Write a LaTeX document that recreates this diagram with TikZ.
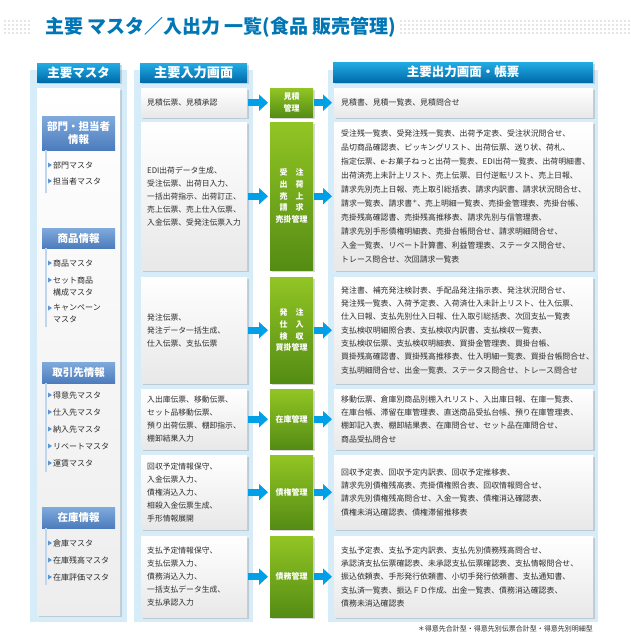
\documentclass[tikz,border=0pt]{standalone}
\usepackage{fontspec}
\setmainfont{Noto Sans CJK JP}
\usetikzlibrary{arrows.meta,shadows}
\definecolor{titleblue}{RGB}{0,118,182}
\definecolor{hdtop}{RGB}{35,172,228}
\definecolor{hdbot}{RGB}{0,106,170}
\definecolor{panelblue}{RGB}{214,236,248}
\definecolor{gtop}{RGB}{146,197,36}
\definecolor{gbot}{RGB}{84,140,20}
\definecolor{arrowblue}{RGB}{0,160,233}
\definecolor{sectop}{RGB}{128,170,220}
\definecolor{secbot}{RGB}{76,124,188}
\definecolor{vlinec}{RGB}{190,214,238}
\definecolor{tric}{RGB}{90,150,210}
\definecolor{txt}{RGB}{45,45,45}
\definecolor{dotgray}{RGB}{205,205,205}
\tikzset{
  panel/.style={fill=panelblue, draw=none, anchor=north west, inner sep=0pt},
  softshadow/.style={drop shadow={shadow xshift=1.3pt, shadow yshift=-1.3pt, opacity=0.3}},
  colhead/.style={anchor=north west, inner sep=0pt, top color=hdtop, bottom color=hdbot, text=white, font=\bfseries\fontsize{12.5}{14}\selectfont, softshadow},
  whitebox/.style={anchor=north west, top color=white, bottom color=black!9, softshadow, text=txt, align=left, inner ysep=0pt},
  inbox/.style={whitebox, inner xsep=6pt, text width=94pt, minimum width=106pt, font=\fontsize{7.8}{13}\selectfont},
  outbox/.style={whitebox, inner xsep=7pt, text width=245pt, minimum width=259pt, font=\fontsize{7.9}{13.3}\selectfont},
  procbox/.style={anchor=north west, minimum width=43pt, inner sep=0pt, top color=gtop, bottom color=gbot, text=white, align=center, font=\bfseries\fontsize{8}{11.7}\selectfont, softshadow},
  flow/.style={draw=arrowblue, line width=7pt, -{Triangle[width=16pt,length=9pt]}},
  sechead/.style={anchor=north west, minimum width=73pt, inner sep=0pt, top color=sectop, bottom color=secbot, text=white, align=center, font=\bfseries\fontsize{10.5}{13}\selectfont},
  item/.style={anchor=west, inner sep=0pt, text=txt, font=\fontsize{8}{12}\selectfont, align=left},
  secline/.style={draw=vlinec, line width=2pt},
}
\begin{document}
\begin{tikzpicture}[x=1pt,y=-1pt]
\useasboundingbox[fill=white] (0,0) rectangle (630,643);
% title dots
\foreach \x in {5,9,...,29} \foreach \y in {21,25,29,33} \fill[dotgray] (\x,\y) circle (0.8pt);
\foreach \x in {401,405,...,629} \foreach \y in {21,25,29,33} \fill[dotgray] (\x,\y) circle (0.8pt);
\node[anchor=west, text=titleblue, font=\bfseries\fontsize{19}{22}\selectfont, inner sep=0pt] (title) at (45,27) {主要 マスタ／入出力 一覧(食品 販売管理)};

% panels
\node[panel, minimum width=97pt, minimum height=552pt] (pan1) at (30,70) {};
\node[panel, minimum width=119pt, minimum height=552pt] (pan2) at (134,70) {};
\node[panel, minimum width=270pt, minimum height=552pt] (pan3) at (328,70) {};

% headers
\node[colhead, minimum width=83pt, minimum height=19pt] (h1) at (37,63) {主要マスタ};
\node[colhead, minimum width=107pt, minimum height=19pt, font=\bfseries\fontsize{13.2}{14}\selectfont] (h2) at (140,63) {主要入力画面};
\node[colhead, minimum width=260pt, minimum height=20pt] (h3) at (333,62) {主要出力画面・帳票};

% master column
\node[anchor=north west, top color=white, bottom color=black!7, softshadow, minimum width=83pt, minimum height=527pt, inner sep=0pt] (mast) at (37,88) {};
\node[sechead, minimum height=34pt] (s1) at (42,116) {部門・担当者\\情報};
\node[sechead, minimum height=20pt] (s2) at (42,228) {商品情報};
\node[sechead, minimum height=21pt] (s3) at (42,362) {取引先情報};
\node[sechead, minimum height=21pt] (s4) at (42,507) {在庫情報};
\draw[secline] (46,150) -- (46,193);
\draw[secline] (46,248) -- (46,327);
\draw[secline] (46,383) -- (46,472);
\draw[secline] (46,528) -- (46,585);
\foreach \n/\y/\t in {a/165/部門マスタ, b/181/担当者マスタ, c/263/商品マスタ, f/395/得意先マスタ, g/412/仕入先マスタ, h/429/納入先マスタ, i/446/リベートマスタ, j/463/運賃マスタ, k/543/倉庫マスタ, l/560/在庫残高マスタ, m/577/在庫評価マスタ}{
  \fill[tric] (48,\y-2.5) -- (52,\y) -- (48,\y+2.5) -- cycle;
  \node[item] (it\n) at (53,\y) {\t};
}
\fill[tric] (48,277.5) -- (52,280) -- (48,282.5) -- cycle;
\node[item] (itd) at (53,286) {セット商品\\構成マスタ};
\fill[tric] (48,305.5) -- (52,308) -- (48,310.5) -- cycle;
\node[item] (ite) at (53,314) {キャンペーン\\マスタ};

% input boxes
\node[inbox, minimum height=29pt] (ip1) at (141,88) {見積伝票、見積承認};
\node[inbox, minimum height=148pt] (ip2) at (141,122) {EDI出荷データ生成、\\受注伝票、出荷日入力、\\一括出荷指示、出荷訂正、\\売上伝票、売上仕入伝票、\\入金伝票、受発注伝票入力};
\node[inbox, minimum height=106pt] (ip3) at (141,277) {発注伝票、\\発注データ一括生成、\\仕入伝票、支払伝票};
\node[inbox, minimum height=60pt] (ip4) at (141,389) {入出庫伝票、移動伝票、\\セット品移動伝票、\\預り出荷伝票、棚卸指示、\\棚卸結果入力};
\node[inbox, minimum height=74pt] (ip5) at (141,455) {回収予定情報保守、\\入金伝票入力、\\債権消込入力、\\相殺入金伝票生成、\\手形情報展開};
\node[inbox, minimum height=81pt] (ip6) at (141,536) {支払予定情報保守、\\支払伝票入力、\\債務消込入力、\\一括支払データ生成、\\支払承認入力};

% process boxes
\node[procbox, minimum height=29pt] (pr1) at (270,88) {見積\\管理};
\node[procbox, minimum height=148pt] (pr2) at (270,122) {受　注\\出　荷\\売　上\\請　求\\売掛管理};
\node[procbox, minimum height=106pt] (pr3) at (270,277) {発　注\\仕　入\\検　収\\買掛管理};
\node[procbox, minimum height=60pt] (pr4) at (270,389) {在庫管理};
\node[procbox, minimum height=74pt] (pr5) at (270,455) {債権管理};
\node[procbox, minimum height=81pt] (pr6) at (270,536) {債務管理};

% output boxes
\node[outbox, minimum height=29pt] (op1) at (334,88) {見積書、見積一覧表、見積問合せ};
\node[outbox, minimum height=148pt, font=\fontsize{7.9}{14}\selectfont] (op2) at (334,122) {受注残一覧表、受発注残一覧表、出荷予定表、受注状況問合せ、\\品切商品確認表、ピッキングリスト、出荷伝票、送り状、荷札、\\\mbox{指定伝票、e-お菓子ねっと出荷一覧表、EDI出荷一覧表、出荷明細書、}\\出荷済売上未計上リスト、売上伝票、日付逆転リスト、売上日報、\\請求先別売上日報、売上取引総括表、請求内訳書、請求状況問合せ、\\請求一覧表、請求書{\raisebox{3pt}{\fontsize{5}{5}\selectfont ＊}}、売上明細一覧表、売掛金管理表、売掛台帳、\\売掛残高確認書、売掛残高推移表、請求先別与信管理表、\\請求先別手形債権明細表、売掛台帳問合せ、請求明細問合せ、\\入金一覧表、リベート計算書、利益管理表、ステータス問合せ、\\トレース問合せ、次回請求一覧表};
\node[outbox, minimum height=106pt] (op3) at (334,277) {発注書、補充発注検討表、手配品発注指示表、発注状況問合せ、\\発注残一覧表、入荷予定表、入荷済仕入未計上リスト、仕入伝票、\\仕入日報、支払先別仕入日報、仕入取引総括表、次回支払一覧表\\支払検収明細照合表、支払検収内訳書、支払検収一覧表、\\支払検収伝票、支払検収明細表、買掛金管理表、買掛台帳、\\買掛残高確認書、買掛残高推移表、仕入明細一覧表、買掛台帳問合せ、\\支払明細問合せ、出金一覧表、ステータス問合せ、トレース問合せ};
\node[outbox, minimum height=60pt] (op4) at (334,389) {移動伝票、倉庫別商品別棚入れリスト、入出庫日報、在庫一覧表、\\在庫台帳、滞留在庫管理表、直送商品受払台帳、預り在庫管理表、\\棚卸記入表、棚卸結果表、在庫問合せ、セット品在庫問合せ、\\商品受払問合せ};
\node[outbox, minimum height=74pt] (op5) at (334,455) {回収予定表、回収予定内訳表、回収予定推移表、\\請求先別債権残高表、売掛債権照合表、回収情報問合せ、\\請求先別債権残高問合せ、入金一覧表、債権消込確認表、\\債権未消込確認表、債権滞留推移表};
\node[outbox, minimum height=81pt] (op6) at (334,536) {支払予定表、支払予定内訳表、支払先別債務残高問合せ、\\承認済支払伝票確認表、未承認支払伝票確認表、支払情報問合せ、\\振込依頼表、手形発行依頼書、小切手発行依頼書、支払通知書、\\支払済一覧表、振込ＦＤ作成、出金一覧表、債務消込確認表、\\債務未消込確認表};

% arrows
\foreach \i in {1,...,6}{
  \draw[flow, shorten <=1pt, shorten >=2pt] (ip\i.east) -- (pr\i.west);
  \draw[flow, shorten <=1pt, shorten >=2pt] (pr\i.east) -- (op\i.west);
}

% footnote
\node[anchor=east, inner sep=0pt, text=txt, font=\fontsize{7}{8}\selectfont] (note) at (593,629) {＊得意先合計型・得意先別伝票合計型・得意先別明細型};
\end{tikzpicture}
\end{document}
